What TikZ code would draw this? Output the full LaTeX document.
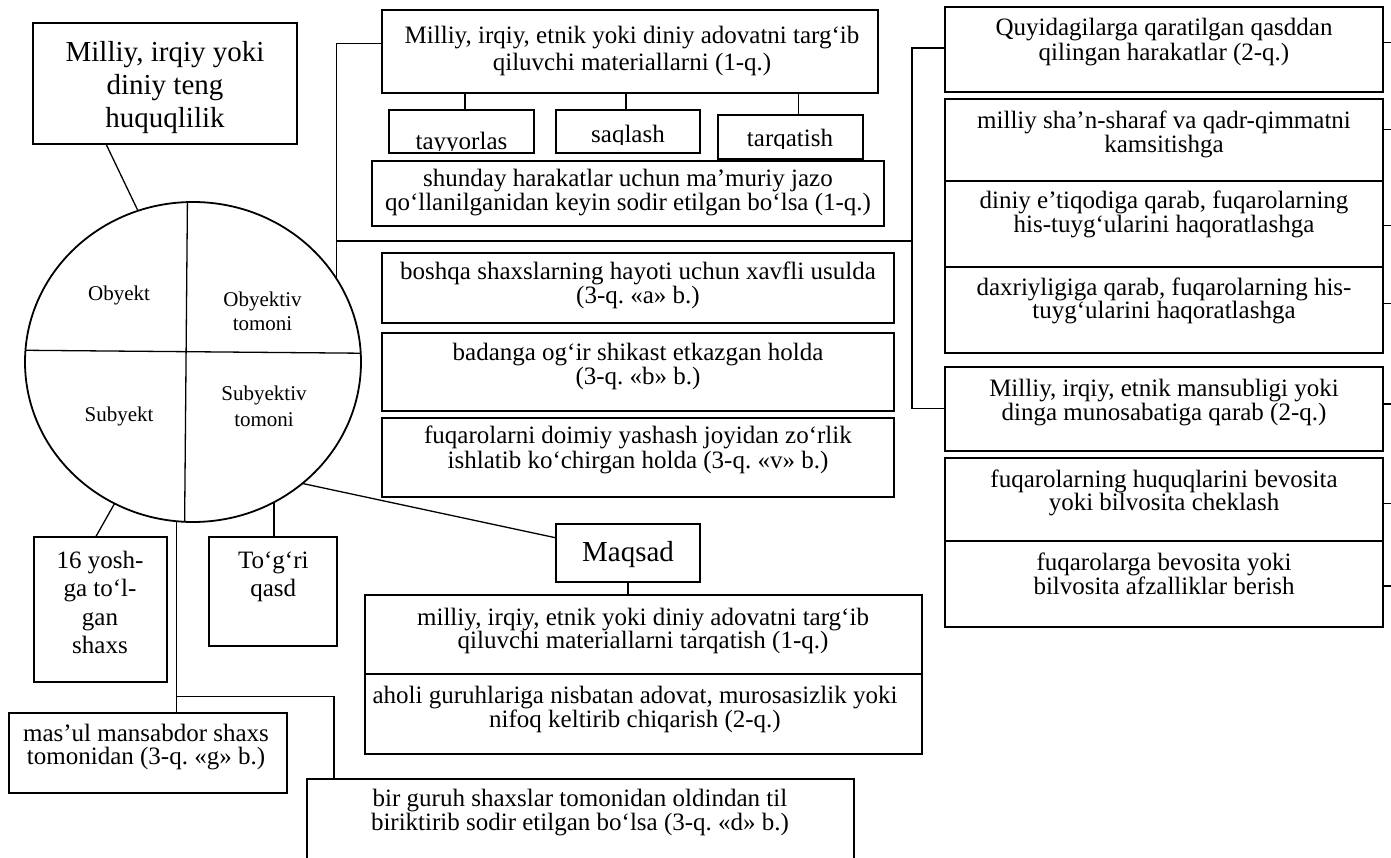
\documentclass[tikz,border=0pt]{standalone}
\usepackage{fontspec}
\setmainfont{Liberation Serif}
\frenchspacing
\usetikzlibrary{shapes.geometric}
\tikzset{
  box/.style={draw, line width=1.8pt, inner sep=0pt, outer sep=0pt, anchor=north west},
  txt/.style={inner sep=0pt, outer sep=0pt, align=center},
  conn/.style={line width=1.3pt},
  body/.style={font=\fontsize{25pt}{#1}\selectfont},
  small/.style={font=\fontsize{21pt}{#1}\selectfont},
  big/.style={font=\fontsize{29pt}{#1}\selectfont},
}
\begin{document}
\begin{tikzpicture}[x=1pt,y=-1pt]
\path[fill=white, use as bounding box] (0,0) rectangle (1391,858);

% title
\node[box, minimum width=263.4pt, minimum height=121.3pt] (title) at (33.3,22.7) {};
\node[txt, anchor=north, big=33.4pt] (titlet) at (165,41) {Milliy, irqiy yoki\\diniy teng\\huquqlilik};

% circle
\node[draw, ellipse, line width=1.8pt, minimum width=336pt, minimum height=320pt, inner sep=0pt, outer sep=0pt] (circ) at (193,362) {};
\draw[conn] (circ.92.3) -- (circ.267.7);
\draw[conn] (circ.176.6) -- (circ.3.4);
\node[txt, anchor=base, small=23pt] (lobj) at (119,301) {Obyekt};
\node[txt, anchor=north, small=23.3pt] (lobt) at (262.5,292.4) {Obyektiv\\tomoni};
\node[txt, anchor=base, small=23pt] (lsub) at (119,421) {Subyekt};
\node[txt, anchor=north, small=25.3pt] (lsubt) at (264,386.4) {Subyektiv\\tomoni};
\draw[conn] ([xshift=-59pt]title.south) -- (circ.110.5);

% top middle
\node[box, minimum width=496pt, minimum height=83.3pt] (topbox) at (382,10) {};
\node[txt, anchor=north, body=26.7pt] (topt) at (632,26) {Milliy, irqiy, etnik yoki diniy adovatni targ‘ib\\qiluvchi materiallarni (1-q.)};
\node[box, minimum width=145pt, minimum height=43.3pt] (tayy) at (389,110) {};
\node[box, minimum width=144pt, minimum height=43pt] (saql) at (556,110) {};
\node[box, minimum width=144.4pt, minimum height=44.3pt] (tarq) at (718.3,115) {};
\begin{scope}\clip (389,110) rectangle (534,151);
\node[txt, anchor=base, body=25pt] (tayyt) at (461.5,149.5) {tayyorlas};\end{scope}
\begin{scope}\clip (556,110) rectangle (700,144.5);
\node[txt, anchor=base, body=25pt] (saqlt) at (628,142.7) {saqlash};\end{scope}
\begin{scope}\clip (718.3,115) rectangle (862.7,148.6);
\node[txt, anchor=base, body=25pt] (tarqt) at (790,146.7) {tarqatish};\end{scope}
\draw[conn] ([xshift=3.5pt]tayy.north) -- ([xshift=3.5pt]tayy.north |- topbox.south);
\draw[conn] ([xshift=-2pt]saql.north) -- ([xshift=-2pt]saql.north |- topbox.south);
\draw[conn] ([xshift=7.8pt]tarq.north) -- ([xshift=7.8pt]tarq.north |- topbox.south);

\node[box, minimum width=512pt, minimum height=65.3pt] (shun) at (372,160.7) {};
\node[txt, anchor=north, body=22.5pt] (shunt) at (628,169.4) {shunday harakatlar uchun ma’muriy jazo\\qo‘llanilganidan keyin sodir etilgan bo‘lsa (1-q.)};

% middle boxes
\node[box, minimum width=512.6pt, minimum height=70.6pt] (bosh) at (381.7,252.7) {};
\node[txt, anchor=north, body=24pt] (bosht) at (638,262) {boshqa shaxslarning hayoti uchun xavfli usulda\\(3-q. «a» b.)};
\node[box, minimum width=512.6pt, minimum height=78pt] (bada) at (381.7,332.7) {};
\node[txt, anchor=north, body=24pt] (badat) at (638,342.7) {badanga og‘ir shikast etkazgan holda\\(3-q. «b» b.)};
\node[box, minimum width=512.6pt, minimum height=78.4pt] (fuqd) at (381.7,418.3) {};
\node[txt, anchor=north, body=25pt] (fuqdt) at (638,426) {fuqarolarni doimiy yashash joyidan zo‘rlik\\ishlatib ko‘chirgan holda (3-q. «v» b.)};

% connectors right of circle
\coordinate (c1) at (336.7,43.3);
\coordinate (c2) at (336.7,241);
\coordinate (c3) at (912,241);
\coordinate (c4) at (912,48);
\coordinate (c5) at (912,408.3);

% right column
\node[box, minimum width=438pt, minimum height=84.4pt] (quy) at (945,7.3) {};
\node[txt, anchor=north, body=25pt] (quyt) at (1164,17.7) {Quyidagilarga qaratilgan qasddan\\qilingan harakatlar (2-q.)};
\node[box, minimum width=438pt, minimum height=82pt] (ra1) at (945,99) {};
\node[txt, anchor=north, body=22.5pt] (ra1t) at (1164,111) {milliy sha’n-sharaf va qadr-qimmatni\\kamsitishga};
\node[box, minimum width=438pt, minimum height=85.7pt] (ra2) at (945,181) {};
\node[txt, anchor=north, body=23.4pt] (ra2t) at (1164,191) {diniy e’tiqodiga qarab, fuqarolarning\\his-tuyg‘ularini haqoratlashga};
\node[box, minimum width=438pt, minimum height=86.6pt] (ra3) at (945,266.7) {};
\node[txt, anchor=north, body=23.3pt] (ra3t) at (1164,277.7) {daxriyligiga qarab, fuqarolarning his-\\tuyg‘ularini haqoratlashga};
\node[box, minimum width=438pt, minimum height=83.4pt] (mans) at (945,367.3) {};
\node[txt, anchor=north, body=22.6pt] (manst) at (1164,379.4) {Milliy, irqiy, etnik mansubligi yoki\\dinga munosabatiga qarab (2-q.)};
\node[box, minimum width=438pt, minimum height=82.4pt] (rb1) at (945,458.3) {};
\node[txt, anchor=north, body=23.3pt] (rb1t) at (1164,469.4) {fuqarolarning huquqlarini bevosita\\yoki bilvosita cheklash};
\node[box, minimum width=438pt, minimum height=86pt] (rb2) at (945,540.7) {};
\node[txt, anchor=north, body=22.5pt] (rb2t) at (1164,552.7) {fuqarolarga bevosita yoki\\bilvosita afzalliklar berish};

\draw[conn] (c1 -| topbox.west) -- (c1) -- (c1 |- circ.30);
\draw[conn] (c2) -- (c3);
\draw[conn] (c4 -| quy.west) -- (c4) -- (c5) -- (c5 -| mans.west);

\coordinate (rt1) at (1391,42.7);
\coordinate (rt2) at (1391,129.3);
\coordinate (rt3) at (1391,225.7);
\coordinate (rt4) at (1391,303.3);
\coordinate (rt5) at (1391,404);
\coordinate (rt6) at (1391,503.3);
\coordinate (rt7) at (1391,586);
\draw[conn] (rt1 -| quy.east) -- (rt1);
\draw[conn] (rt2 -| ra1.east) -- (rt2);
\draw[conn] (rt3 -| ra2.east) -- (rt3);
\draw[conn] (rt4 -| ra3.east) -- (rt4);
\draw[conn] (rt5 -| mans.east) -- (rt5);
\draw[conn] (rt6 -| rb1.east) -- (rt6);
\draw[conn] (rt7 -| rb2.east) -- (rt7);

% Maqsad
\node[box, minimum width=144pt, minimum height=57.7pt] (maq) at (556,524) {};
\node[txt, anchor=base, big=33pt] (maqt) at (628,561.7) {Maqsad};
\node[box, minimum width=556.7pt, minimum height=79pt] (ml1) at (365,595) {};
\node[txt, anchor=north, body=22.5pt] (ml1t) at (643,607.7) {milliy, irqiy, etnik yoki diniy adovatni targ‘ib\\qiluvchi materiallarni tarqatish (1-q.)};
\node[box, minimum width=556.7pt, minimum height=80pt] (ml2) at (365,674) {};
\node[txt, anchor=north, body=22pt] (ml2t) at (635,686) {aholi guruhlariga nisbatan adovat, murosasizlik yoki\\nifoq keltirib chiqarish (2-q.)};
\draw[conn] (circ.312.1) -- ([yshift=15pt]maq.west);
\draw[conn] (maq.south) -- (maq.south |- ml1.north);

% bottom left
\node[box, minimum width=132.4pt, minimum height=145pt] (yosh) at (34.3,537.3) {};
\node[txt, anchor=north, body=28.3pt] (yosht) at (100,551.2) {16 yosh-\\ga to‘l-\\gan\\shaxs};
\node[box, minimum width=128pt, minimum height=108.7pt] (tog) at (209.3,537.3) {};
\node[txt, anchor=north, body=28.3pt] (togt) at (273.3,551.4) {To‘g‘ri\\qasd};
\node[box, minimum width=278pt, minimum height=80.6pt] (mas) at (9.3,712.7) {};
\node[txt, anchor=north, body=22.5pt] (mast) at (146,724.3) {mas’ul mansabdor shaxs\\tomonidan (3-q. «g» b.)};
\node[box, minimum width=546.6pt, minimum height=100pt] (bir) at (307,779.3) {};
\node[txt, anchor=north, body=22.5pt] (birt) at (580,789.3) {bir guruh shaxslar tomonidan oldindan til\\biriktirib sodir etilgan bo‘lsa (3-q. «d» b.)};

\draw[conn] (circ.241.2) -- ([xshift=-5pt]yosh.north);
\draw[conn] (circ.300.5) -- (circ.300.5 |- tog.north);
\draw[conn] (circ.264.5) -- (circ.264.5 |- mas.north);
\coordinate (j2) at (334,696.7);
\draw[conn] (j2 -| circ.264.5) -- (j2) -- (j2 |- bir.north);
\end{tikzpicture}
\end{document}
